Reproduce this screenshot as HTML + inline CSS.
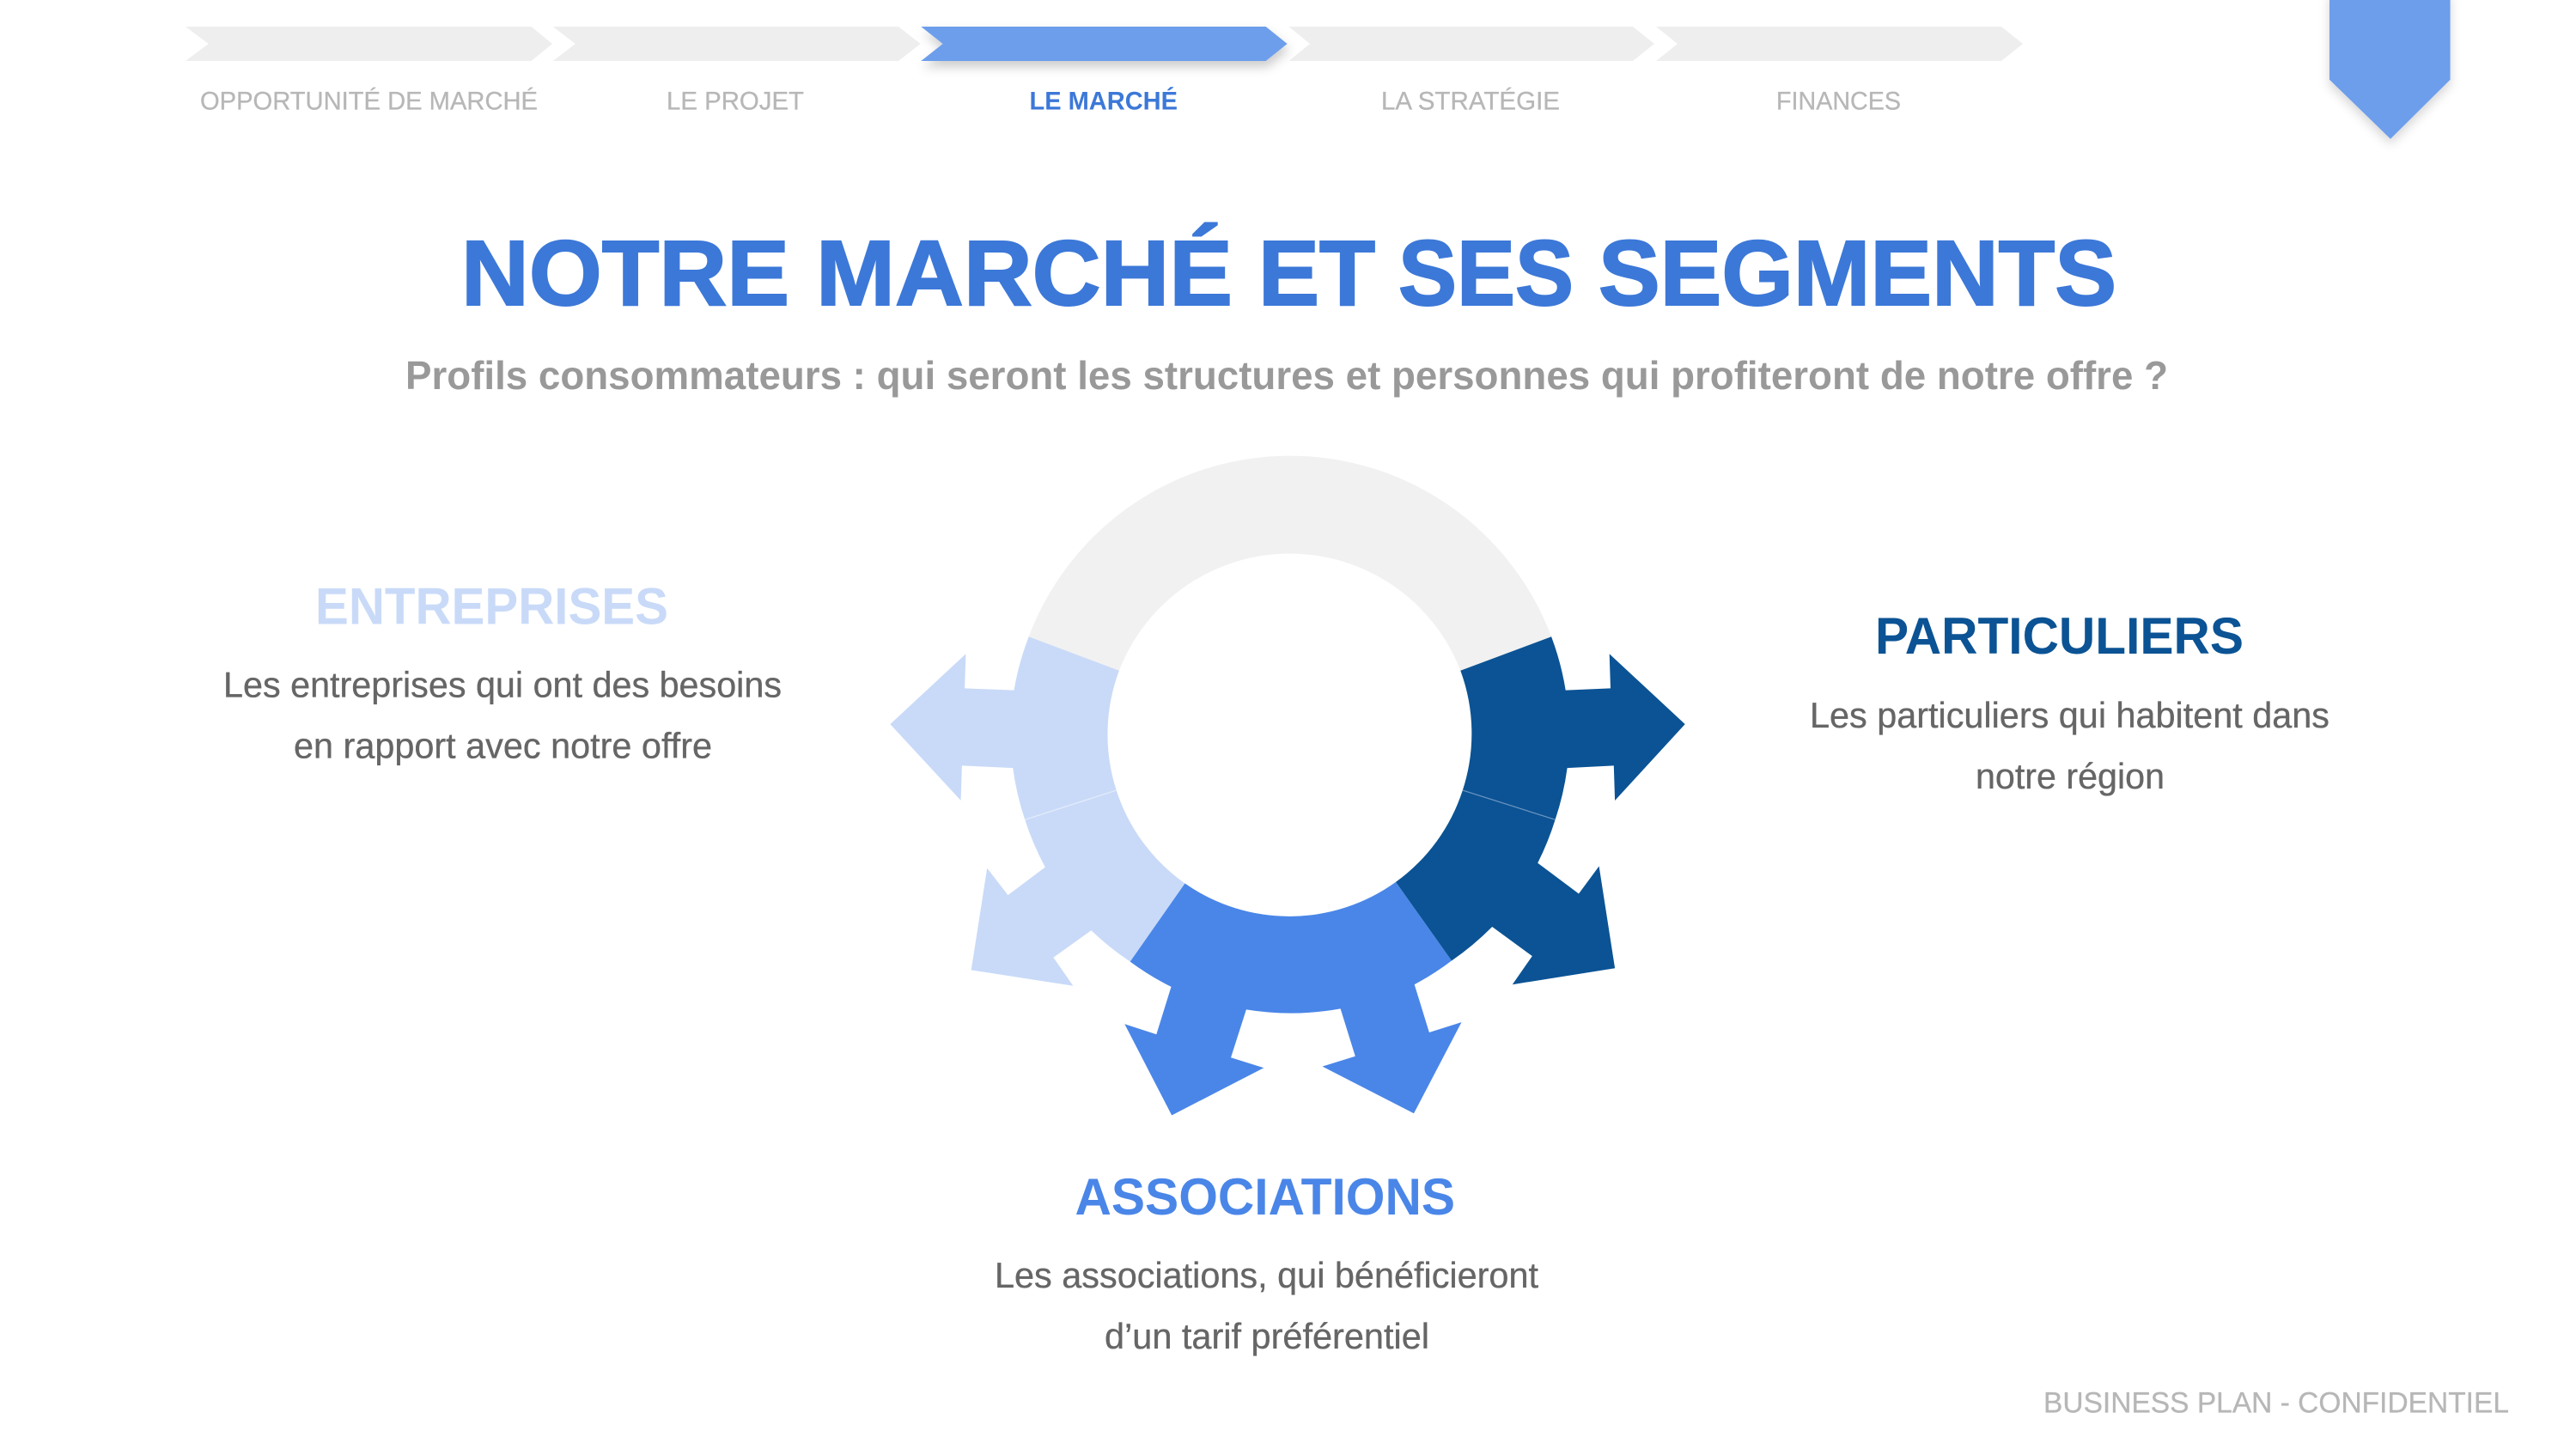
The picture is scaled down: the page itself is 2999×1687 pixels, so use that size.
<!DOCTYPE html>
<html lang="fr">
<head>
<meta charset="utf-8">
<title>Notre marché et ses segments</title>
<style>
html,body{margin:0;padding:0;background:#fff;width:2999px;height:1687px;overflow:hidden}
svg{display:block}
text{font-family:"Liberation Sans",sans-serif}
.b{font-weight:700}
.t{font-weight:700;font-size:107.5px;fill:#3c78d8;stroke:#3c78d8;stroke-width:2}
.n{font-size:30px;fill:#b7b7b7;stroke:#b7b7b7;stroke-width:.3}
.p{font-size:42px;fill:#666666;stroke:#666666;stroke-width:.35}
</style>
</head>
<body>
<svg xmlns="http://www.w3.org/2000/svg" width="2999" height="1687" viewBox="0 0 2999 1687">
<defs>
<filter id="sh" x="-20%" y="-50%" width="140%" height="300%"><feDropShadow dx="2" dy="7" stdDeviation="6" flood-color="#000" flood-opacity="0.2"/></filter>
<filter id="sh2" x="-30%" y="-20%" width="160%" height="140%"><feDropShadow dx="0" dy="6" stdDeviation="6" flood-color="#000" flood-opacity="0.16"/></filter>
</defs>
<rect width="2999" height="1687" fill="#fff"/>

<!-- nav chevrons -->
<polygon points="216,31 618.5,31 643,51 618.5,71 216,71 242.7,51" fill="#eeeeee"/>
<polygon points="643.8,31 1046,31 1071.6,51 1046,71 643.8,71 669.8,51" fill="#eeeeee"/>
<polygon points="1072.3,31 1473.7,31 1498.6,51 1473.7,71 1072.3,71 1097.6,51" fill="#6d9eeb" filter="url(#sh)"/>
<polygon points="1500.5,31 1901,31 1926,51 1901,71 1500.5,71 1525,51" fill="#eeeeee"/>
<polygon points="1928,31 2330,31 2355,51 2330,71 1928,71 1953,51" fill="#eeeeee"/>

<text x="233" y="127.5" class="n" textLength="393" lengthAdjust="spacingAndGlyphs">OPPORTUNITÉ DE MARCHÉ</text>
<text x="776" y="127.5" class="n" textLength="160" lengthAdjust="spacingAndGlyphs">LE PROJET</text>
<text x="1198.5" y="127.5" font-size="30" class="b" fill="#3c78d8" textLength="172.5" lengthAdjust="spacingAndGlyphs">LE MARCHÉ</text>
<text x="1608" y="127.5" class="n" textLength="208" lengthAdjust="spacingAndGlyphs">LA STRATÉGIE</text>
<text x="2068" y="127.5" class="n" textLength="145" lengthAdjust="spacingAndGlyphs">FINANCES</text>

<!-- pennant -->
<polygon points="2712,-10 2852.6,-10 2852.6,92.7 2783,161.7 2712,92.7" fill="#6d9eeb" filter="url(#sh2)"/>

<!-- title -->
<text x="537" y="355" class="t" textLength="382" lengthAdjust="spacingAndGlyphs">NOTRE</text>
<text x="950" y="355" class="t" textLength="485" lengthAdjust="spacingAndGlyphs">MARCHÉ</text>
<text x="1465" y="355" class="t" textLength="136" lengthAdjust="spacingAndGlyphs">ET</text>
<text x="1628" y="355" class="t" textLength="204" lengthAdjust="spacingAndGlyphs">SES</text>
<text x="1861" y="355" class="t" textLength="603" lengthAdjust="spacingAndGlyphs">SEGMENTS</text>
<text x="472" y="453" font-size="46" class="b" fill="#999999" textLength="2052" lengthAdjust="spacingAndGlyphs">Profils consommateurs : qui seront les structures et personnes qui profiteront de notre offre ?</text>

<!-- ring -->
<path d="M1197.7 741.2 A325 325 0 0 1 1806.1 741.2 L1700.3 780.8 A213 213 0 0 0 1302.9 780.8Z" fill="#f1f1f1"/>
<path d="M1197.7 741.2 A325 325 0 0 0 1180.5 803.6 L1123.1 801.4 L1124.4 761.3 L1036.4 843.1 L1118.6 932 L1119.9 891.4 L1179.2 894.1 A325 325 0 0 0 1193.2 954.3 L1299.7 920.1 A212 212 0 0 1 1302.9 780.8Z" fill="#c9daf8"/>
<path d="M1193.2 954.3 A325 325 0 0 0 1216.8 1009.6 L1173.5 1042.1 L1149.2 1010.7 L1130.7 1129.4 L1249.4 1147.8 L1226.4 1114.7 L1270.4 1083.3 A325 325 0 0 0 1315.7 1119.6 L1379.5 1028.5 A212 212 0 0 1 1299.7 920.1Z" fill="#c9daf8"/>
<path d="M1315.7 1119.6 A325 325 0 0 0 1363.5 1148.9 L1346.3 1204.2 L1309.3 1192.3 L1364.2 1298.5 L1471.3 1243.2 L1433 1231.3 L1450.9 1175.4 A325 325 0 0 0 1560.6 1174.4 L1577.8 1229.7 L1539.5 1241.6 L1646 1296.3 L1701.5 1190.1 L1663.9 1202 L1646.7 1146.2 A325 325 0 0 0 1690 1118.5 L1625 1026.9 A212 212 0 0 1 1379.5 1028.5Z" fill="#4a86e8"/>
<path d="M1700.3 780.8 L1806.1 741.2 A325 325 0 0 1 1822.7 803.6 L1875 801.4 L1873.7 761.3 L1961.7 843.1 L1880.1 932 L1878.8 891.4 L1824.6 894.1 A325 325 0 0 1 1810.6 954.3 L1702.8 920.1 A212 212 0 0 0 1700.3 780.8Z" fill="#0b5394"/>
<path d="M1810.6 954.3 A325 325 0 0 1 1790.2 1004.7 L1838 1040.5 L1861.6 1008.5 L1880.1 1127.2 L1760.8 1146.2 L1783.8 1113.1 L1737.2 1079 A325 325 0 0 1 1690 1118.5 L1625 1026.9 A212 212 0 0 0 1702.8 920.1Z" fill="#0b5394"/>
<line x1="1193.2" y1="954.3" x2="1299.7" y2="920.1" stroke="#e4ecfb" stroke-width="1.2"/>
<line x1="1810.6" y1="954.3" x2="1702.8" y2="920.1" stroke="#6f97c2" stroke-width="1.2"/>

<!-- labels -->
<text x="367" y="726.7" font-size="60" class="b" fill="#c9daf8" textLength="411" lengthAdjust="spacingAndGlyphs">ENTREPRISES</text>
<text x="260" y="811.7" class="p" textLength="650" lengthAdjust="spacingAndGlyphs">Les entreprises qui ont des besoins</text>
<text x="342" y="882.7" class="p" textLength="487" lengthAdjust="spacingAndGlyphs">en rapport avec notre offre</text>

<text x="2183" y="761" font-size="60" class="b" fill="#0b5394" textLength="429" lengthAdjust="spacingAndGlyphs">PARTICULIERS</text>
<text x="2107" y="847" class="p" textLength="605" lengthAdjust="spacingAndGlyphs">Les particuliers qui habitent dans</text>
<text x="2300" y="918" class="p" textLength="220" lengthAdjust="spacingAndGlyphs">notre région</text>

<text x="1251.5" y="1414" font-size="60" class="b" fill="#4a86e8" textLength="442.5" lengthAdjust="spacingAndGlyphs">ASSOCIATIONS</text>
<text x="1158" y="1499" class="p" textLength="633" lengthAdjust="spacingAndGlyphs">Les associations, qui bénéficieront</text>
<text x="1286" y="1570" class="p" textLength="378" lengthAdjust="spacingAndGlyphs">d’un tarif préférentiel</text>

<text x="2379" y="1644.7" font-size="34" fill="#b7b7b7" stroke="#b7b7b7" stroke-width=".3" textLength="542" lengthAdjust="spacingAndGlyphs">BUSINESS PLAN - CONFIDENTIEL</text>
</svg>
</body>
</html>
